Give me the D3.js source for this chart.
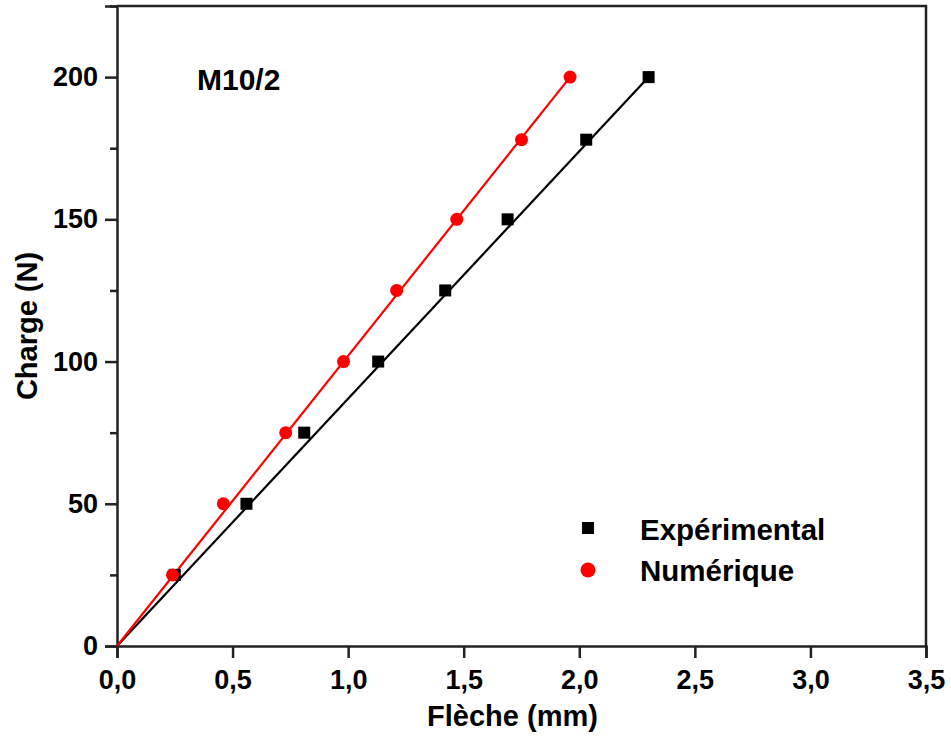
<!DOCTYPE html>
<html>
<head>
<meta charset="utf-8">
<script src="https://cdn.jsdelivr.net/npm/d3@7"></script>
<style>
  html, body { margin: 0; padding: 0; background: #fff; }
  svg text { font-family: "Liberation Sans", Arial, sans-serif; font-weight: bold; fill: #000; }
</style>
</head>
<body>
<svg id="chart" width="951" height="737"></svg>
<script>
// ---- data ----
const expX = [0.25, 0.56, 0.81, 1.13, 1.42, 1.69, 2.03, 2.30];
const expY = [25, 50, 75, 100, 125, 150, 178, 200];
const numX = [0.24, 0.46, 0.73, 0.98, 1.21, 1.47, 1.75, 1.96];
const numY = [25, 50, 75, 100, 125, 150, 178, 200];
// linear trend lines (start and end of each fitted line)
const expFitX = [0, 2.30];
const expFitY = [0, 200];
const numFitX = [0, 1.96];
const numFitY = [0, 200];
const xTicks = [0, 0.5, 1.0, 1.5, 2.0, 2.5, 3.0, 3.5];
const yTicks = [0, 50, 100, 150, 200];
const yMinorTicks = [25, 75, 125, 175, 225];
const seriesNames = ["Expérimental", "Numérique"];
const titleText = "M10/2";
const xTitle = "Flèche (mm)";
const yTitle = "Charge (N)";

// ---- layout ----
const L = 117, R = 926, T = 6, B = 646;
const svg = d3.select("#chart");
const x = d3.scaleLinear().domain([0, 3.5]).range([L, R]);
const y = d3.scaleLinear().domain([0, 225]).range([B, T]);
const fmt = d => d3.format(".1f")(d).replace(".", ",");

// frame (top & right)
svg.append("path")
  .attr("d", `M${L},${T}H${R}V${B}`)
  .attr("fill", "none").attr("stroke", "#222").attr("stroke-width", 2.5);

// x axis
const gx = svg.append("g").attr("transform", `translate(0,${B})`)
  .call(d3.axisBottom(x).tickValues(xTicks).tickFormat(fmt).tickSize(12).tickPadding(12));
gx.select(".domain").attr("stroke", "#222").attr("stroke-width", 2.5);
gx.selectAll(".tick line").attr("stroke", "#222").attr("stroke-width", 2.5);
gx.selectAll(".tick text").style("font-size", "27px");

// y axis minor
const gym = svg.append("g").attr("transform", `translate(${L},0)`)
  .call(d3.axisLeft(y).tickValues(yMinorTicks).tickFormat("").tickSize(7));
gym.select(".domain").remove();
gym.selectAll(".tick line").attr("stroke", "#222").attr("stroke-width", 2.5);

// y axis
const gy = svg.append("g").attr("transform", `translate(${L},0)`)
  .call(d3.axisLeft(y).tickValues(yTicks).tickFormat(d3.format("d")).tickSize(12).tickPadding(7));
gy.select(".domain").attr("stroke", "#222").attr("stroke-width", 2.5);
gy.selectAll(".tick line").attr("stroke", "#222").attr("stroke-width", 2.5);
gy.selectAll(".tick text").style("font-size", "27px");

// fit lines
const line = d3.line().x(d => x(d[0])).y(d => y(d[1]));
svg.append("path").datum(d3.zip(expFitX, expFitY))
  .attr("d", line).attr("fill", "none").attr("stroke", "#000").attr("stroke-width", 2.2);
svg.append("path").datum(d3.zip(numFitX, numFitY))
  .attr("d", line).attr("fill", "none").attr("stroke", "#ff0000").attr("stroke-width", 2.2);

// points
const sq = 12;
svg.append("g").selectAll("rect").data(d3.zip(expX, expY)).join("rect")
  .attr("x", d => x(d[0]) - sq / 2).attr("y", d => y(d[1]) - sq / 2)
  .attr("width", sq).attr("height", sq).attr("fill", "#000");
svg.append("g").selectAll("circle").data(d3.zip(numX, numY)).join("circle")
  .attr("cx", d => x(d[0])).attr("cy", d => y(d[1])).attr("r", 6.5).attr("fill", "#ff0000");

// title
svg.append("text").attr("x", 197).attr("y", 90).style("font-size", "30px").text(titleText);

// axis titles
svg.append("text").attr("x", (L + R) / 2 - 9).attr("y", 726).attr("text-anchor", "middle")
  .style("font-size", "29px").text(xTitle);
svg.append("text").attr("transform", `translate(37,${(T + B) / 2}) rotate(-90)`)
  .attr("text-anchor", "middle").style("font-size", "29px").text(yTitle);

// legend
const lg = svg.append("g");
lg.append("rect").attr("x", 588 - 6).attr("y", 528 - 6).attr("width", 12).attr("height", 12).attr("fill", "#000");
lg.append("circle").attr("cx", 588).attr("cy", 570).attr("r", 7.5).attr("fill", "#ff0000");
lg.append("text").attr("x", 640).attr("y", 540).style("font-size", "29.5px").text(seriesNames[0]);
lg.append("text").attr("x", 640).attr("y", 581).style("font-size", "29.5px").text(seriesNames[1]);
</script>
</body>
</html>
